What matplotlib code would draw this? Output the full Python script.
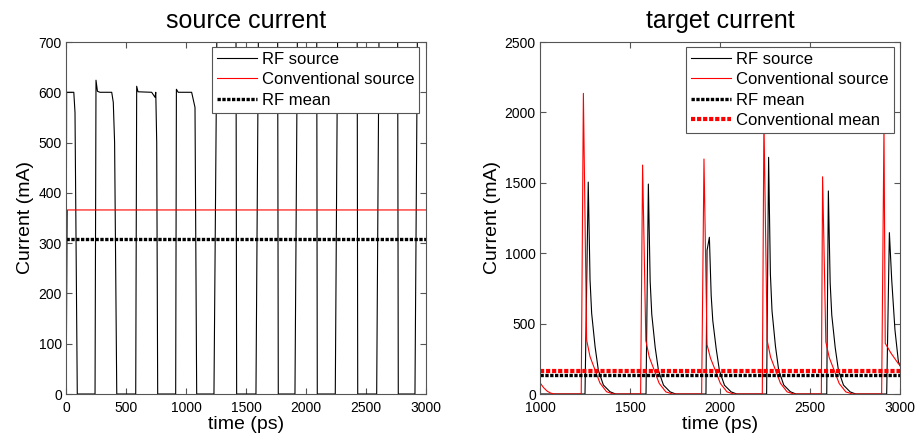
import matplotlib
matplotlib.use('Agg')
import matplotlib.pyplot as plt

plt.rcParams['font.family'] = ['Liberation Sans', 'DejaVu Sans']

# ---- source current (left) ----
src_rf_t = [0, 5, 65, 75, 94, 242, 250, 262, 283, 381, 394, 405, 423,
            581, 589, 600, 714, 742, 748, 756, 764, 914, 920, 935, 1047, 1075, 1089,
            1233, 1265, 1415, 1422, 1583, 1610, 1762, 1769, 1908, 1935, 2088, 2094,
            2244, 2270, 2425, 2431, 2589, 2615, 2762, 2769, 2908, 2935, 3000]
src_rf_i = [0, 600, 600, 560, 0, 0, 624, 602, 600, 600, 580, 500, 0,
            0, 612, 601, 600, 590, 600, 500, 0, 0, 606, 600, 600, 570, 0,
            0, 950, 950, 0, 0, 950, 950, 0, 0, 950, 950, 0,
            0, 950, 950, 0, 0, 950, 950, 0, 0, 950, 950]
src_conv_t = [0, 12, 3000]
src_conv_i = [0, 366, 366]
src_rf_mean = 308

# ---- target current (right) ----
tgt_rf_t = [1000, 1250, 1268, 1278, 1287, 1306, 1324, 1352, 1389, 1420,
            1589, 1602, 1612, 1621, 1640, 1658, 1686, 1723, 1754,
            1922, 1928, 1941, 1951, 1960, 1979, 1997, 2025, 2062, 2093,
            2259, 2270, 2280, 2289, 2308, 2326, 2354, 2391, 2422,
            2593, 2602, 2612, 2621, 2640, 2658, 2686, 2723, 2754,
            2926, 2941, 2954, 2972, 2991, 3000]
tgt_rf_i = [0, 0, 1505, 810, 573, 336, 170, 64, 16, 0,
            0, 1491, 800, 565, 330, 168, 63, 15, 0,
            0, 1020, 1113, 700, 520, 320, 165, 62, 15, 0,
            0, 1681, 850, 590, 340, 170, 64, 16, 0,
            0, 1442, 790, 560, 330, 168, 63, 15, 0,
            0, 1146, 810, 455, 230, 200]
tgt_conv_t = [1000, 1020, 1040, 1060, 1080,
              1229, 1241, 1259, 1278, 1306, 1333, 1370, 1407,
              1559, 1570, 1588, 1607, 1635, 1662, 1699, 1736,
              1898, 1911, 1928, 1947, 1975, 2002, 2039, 2076,
              2235, 2244, 2262, 2281, 2309, 2336, 2373, 2410,
              2563, 2570, 2588, 2607, 2635, 2662, 2699, 2736,
              2898, 2911, 2918, 2950, 2991, 3000]
tgt_conv_i = [80, 45, 20, 6, 0,
              0, 2135, 384, 265, 170, 78, 16, 0,
              0, 1626, 380, 262, 168, 76, 15, 0,
              0, 1669, 350, 255, 165, 75, 15, 0,
              0, 1950, 380, 262, 168, 76, 15, 0,
              0, 1543, 370, 258, 166, 75, 15, 0,
              0, 1900, 360, 290, 215, 205]
tgt_rf_mean = 135
tgt_conv_mean = 165

frame = '#555555'
dots = (0, (1, 0.45))

fig = plt.figure(figsize=(9.17, 4.41), dpi=100)
ax1 = fig.add_axes([66 / 917, 47 / 441, 360 / 917, 352 / 441])
ax2 = fig.add_axes([540 / 917, 47 / 441, 360 / 917, 352 / 441])

ax1.plot(src_rf_t, src_rf_i, color='black', lw=0.8, label='RF source')
ax1.plot(src_conv_t, src_conv_i, color='red', lw=0.8, label='Conventional source')
ax1.axhline(src_rf_mean, color='black', lw=2.4, ls=dots, label='RF mean')
ax1.set_xlim(0, 3000)
ax1.set_ylim(0, 700)
ax1.set_xticks(range(0, 3001, 500))
ax1.set_yticks(range(0, 701, 100))
ax1.set_title('source current', fontsize=18, pad=10)

ax2.plot(tgt_rf_t, tgt_rf_i, color='black', lw=0.8, label='RF source')
ax2.plot(tgt_conv_t, tgt_conv_i, color='red', lw=0.8, label='Conventional source')
ax2.axhline(tgt_rf_mean, color='black', lw=2.4, ls=dots, label='RF mean')
ax2.axhline(tgt_conv_mean, color='red', lw=3, ls=dots, label='Conventional mean')
ax2.set_xlim(1000, 3000)
ax2.set_ylim(0, 2500)
ax2.set_xticks(range(1000, 3001, 500))
ax2.set_yticks(range(0, 2501, 500))
ax2.set_title('target current', fontsize=18, pad=10)

for ax, anchor in ((ax1, (0.9806, 0.9858)), (ax2, (0.9833, 0.9858))):
    ax.set_xlabel('time (ps)', fontsize=14, labelpad=1)
    ax.set_ylabel('Current (mA)', fontsize=14, labelpad=3)
    ax.tick_params(direction='in', top=True, right=True, length=4, width=0.8,
                   color=frame, labelsize=10)
    ax.tick_params(axis='x', pad=5)
    ax.tick_params(axis='y', pad=3)
    for s in ax.spines.values():
        s.set_color(frame)
        s.set_linewidth(0.8)
    leg = ax.legend(loc='upper right', bbox_to_anchor=anchor, borderaxespad=0,
                    fontsize=12, fancybox=False, framealpha=1, edgecolor=frame,
                    handlelength=2.4, handletextpad=0.3, labelspacing=0.32,
                    borderpad=0.3)
    leg.get_frame().set_linewidth(0.8)

fig.savefig('out.png', dpi=100)
